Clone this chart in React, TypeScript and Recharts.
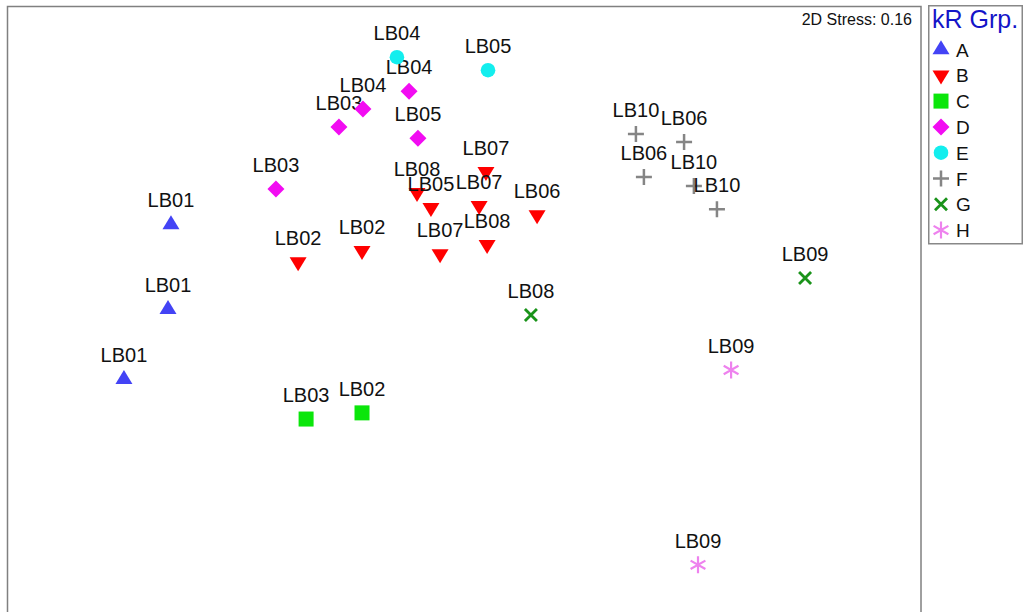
import { ScatterChart, Scatter, XAxis, YAxis, Legend } from "recharts";

// nMDS ordination scores (axis 1, axis 2) per site, grouped by kR cluster
const groupA = [
  { site: "LB01", x: -1.286, y: 0.397 },
  { site: "LB01", x: -1.299, y: 0.025 },
  { site: "LB01", x: -1.492, y: -0.282 },
];
const groupB = [
  { site: "LB02", x: -0.729, y: 0.233 },
  { site: "LB02", x: -0.449, y: 0.282 },
  { site: "LB08", x: -0.208, y: 0.536 },
  { site: "LB05", x: -0.147, y: 0.47 },
  { site: "LB07", x: 0.094, y: 0.628 },
  { site: "LB07", x: 0.064, y: 0.479 },
  { site: "LB06", x: 0.318, y: 0.439 },
  { site: "LB07", x: -0.107, y: 0.268 },
  { site: "LB08", x: 0.099, y: 0.308 },
];
const groupC = [
  { site: "LB03", x: -0.694, y: -0.456 },
  { site: "LB02", x: -0.449, y: -0.429 },
];
const groupD = [
  { site: "LB03", x: -0.826, y: 0.552 },
  { site: "LB03", x: -0.55, y: 0.824 },
  { site: "LB04", x: -0.445, y: 0.903 },
  { site: "LB04", x: -0.243, y: 0.981 },
  { site: "LB05", x: -0.204, y: 0.775 },
];
const groupE = [
  { site: "LB04", x: -0.296, y: 1.13 },
  { site: "LB05", x: 0.103, y: 1.073 },
];
const groupF = [
  { site: "LB10", x: 0.751, y: 0.793 },
  { site: "LB06", x: 0.962, y: 0.758 },
  { site: "LB06", x: 0.786, y: 0.605 },
  { site: "LB10", x: 1.005, y: 0.565 },
  { site: "LB10", x: 1.106, y: 0.464 },
];
const groupG = [
  { site: "LB08", x: 0.291, y: 0.0 },
  { site: "LB09", x: 1.492, y: 0.162 },
];
const groupH = [
  { site: "LB09", x: 1.168, y: -0.241 },
  { site: "LB09", x: 1.023, y: -1.095 },
];

const groupNames = ["A", "B", "C", "D", "E", "F", "G", "H"];
const groupData = [groupA, groupB, groupC, groupD, groupE, groupF, groupG, groupH];
const stressValue = 0.16;

type Kind = "up" | "down" | "square" | "diamond" | "circle" | "plus" | "cross" | "star";

const styles: { kind: Kind; color: string }[] = [
  { kind: "up", color: "#4343f5" },
  { kind: "down", color: "#ff0000" },
  { kind: "square", color: "#0be60b" },
  { kind: "diamond", color: "#f20cf2" },
  { kind: "circle", color: "#13eeee" },
  { kind: "plus", color: "#858585" },
  { kind: "cross", color: "#1a931a" },
  { kind: "star", color: "#ee82ee" },
];

const FONT = "Arial, 'Liberation Sans', sans-serif";

function Marker({ kind, color, cx, cy }: { kind: Kind; color: string; cx: number; cy: number }) {
  switch (kind) {
    case "up":
      return <path d={`M${cx},${cy - 9.3}L${cx + 8.5},${cy + 4.7}L${cx - 8.5},${cy + 4.7}Z`} fill={color} />;
    case "down":
      return <path d={`M${cx},${cy + 9.3}L${cx + 8.5},${cy - 4.7}L${cx - 8.5},${cy - 4.7}Z`} fill={color} />;
    case "square":
      return <rect x={cx - 7.5} y={cy - 7.5} width={15} height={15} fill={color} />;
    case "diamond":
      return <path d={`M${cx},${cy - 8.5}L${cx + 8.5},${cy}L${cx},${cy + 8.5}L${cx - 8.5},${cy}Z`} fill={color} />;
    case "circle":
      return <circle cx={cx} cy={cy} r={7.3} fill={color} />;
    case "plus":
      return (
        <path
          d={`M${cx - 8},${cy}H${cx + 8}M${cx},${cy - 8}V${cy + 8}`}
          stroke={color}
          strokeWidth={2.5}
        />
      );
    case "cross":
      return (
        <path
          d={`M${cx - 6},${cy - 6}L${cx + 6},${cy + 6}M${cx - 6},${cy + 6}L${cx + 6},${cy - 6}`}
          stroke={color}
          strokeWidth={2.8}
        />
      );
    case "star":
      return (
        <path
          d={`M${cx},${cy - 8.5}V${cy + 8.5}M${cx - 7.4},${cy - 4.2}L${cx + 7.4},${cy + 4.2}M${cx - 7.4},${cy + 4.2}L${cx + 7.4},${cy - 4.2}`}
          stroke={color}
          strokeWidth={2.2}
        />
      );
  }
}

function makeShape(kind: Kind, color: string) {
  return (props: any) => {
    const { cx, cy, payload } = props;
    return (
      <g>
        <Marker kind={kind} color={color} cx={cx} cy={cy} />
        <text
          x={cx}
          y={cy - 17}
          textAnchor="middle"
          fontFamily={FONT}
          fontSize={20}
          fill="#111"
        >
          {payload.site}
        </text>
      </g>
    );
  };
}

function GroupLegend() {
  return (
    <svg width={95} height={240} style={{ display: "block" }}>
      <rect x={0.75} y={0.75} width={93.5} height={238} fill="#fff" stroke="#888" strokeWidth={1.5} />
      <text x={4} y={23} fontFamily={FONT} fontSize={25} fill="#1414c8">
        kR Grp.
      </text>
      {groupNames.map((name, i) => {
        const cy = 44.5 + i * 25.8;
        return (
          <g key={name}>
            <Marker kind={styles[i].kind} color={styles[i].color} cx={13} cy={cy} />
            <text x={28} y={cy + 7} fontFamily={FONT} fontSize={19} fill="#111">
              {name}
            </text>
          </g>
        );
      })}
    </svg>
  );
}

export default function App() {
  return (
    <div
      style={{
        position: "absolute",
        left: 0,
        top: 0,
        width: 1023,
        height: 612,
        overflow: "hidden",
        background: "#fff",
      }}
    >
      <ScatterChart width={1023} height={623} margin={{ top: 7, left: 8, right: 102, bottom: 0 }}>
        <XAxis type="number" dataKey="x" domain={[-2, 2]} allowDataOverflow hide />
        <YAxis type="number" dataKey="y" domain={[-1.35, 1.35]} allowDataOverflow hide />
        <rect x={7.5} y={6.5} width={913.5} height={700} fill="none" stroke="#808080" strokeWidth={1.5} />
        <text x={912} y={25} textAnchor="end" fontFamily={FONT} fontSize={16} fill="#111">
          {`2D Stress: ${stressValue.toFixed(2)}`}
        </text>
        {groupData.map((data, i) => (
          <Scatter
            key={groupNames[i]}
            name={groupNames[i]}
            data={data}
            fill={styles[i].color}
            shape={makeShape(styles[i].kind, styles[i].color)}
            isAnimationActive={false}
          />
        ))}
        <Legend
          layout="horizontal"
          verticalAlign="middle"
          align="center"
          content={() => <GroupLegend />}
          wrapperStyle={{ left: 928, top: 5, width: 95, height: 240 }}
        />
      </ScatterChart>
    </div>
  );
}
